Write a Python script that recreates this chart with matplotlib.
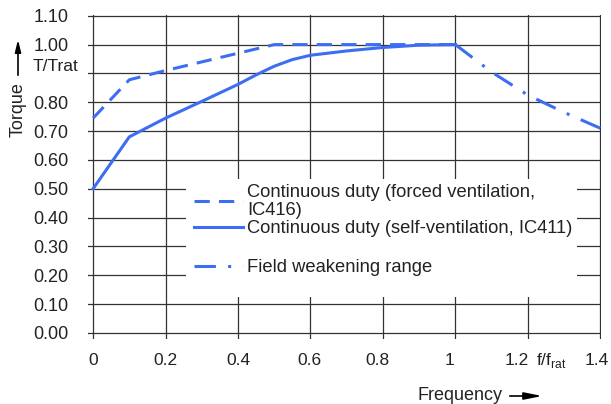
import matplotlib
matplotlib.use('Agg')
import matplotlib.pyplot as plt
from matplotlib.patches import Rectangle, FancyArrowPatch

plt.rcParams['font.family'] = ['Liberation Sans', 'DejaVu Sans']

# data
freq_forced = [0.0, 0.1, 0.2, 0.3, 0.4, 0.5, 0.6, 0.7, 0.8, 0.9, 1.0]
torque_forced = [0.745, 0.878, 0.91, 0.94, 0.97, 1.0, 1.0, 1.0, 1.0, 1.0, 1.0]

freq_self = [0.0, 0.1, 0.2, 0.3, 0.4, 0.45, 0.5, 0.55, 0.6, 0.7, 0.8, 0.9, 1.0]
torque_self = [0.5, 0.68, 0.745, 0.803, 0.862, 0.895, 0.925, 0.948, 0.963, 0.978, 0.99, 0.998, 1.0]

freq_field = [1.0, 1.1, 1.2, 1.3, 1.4]
torque_field = [1.0, 0.905, 0.825, 0.765, 0.71]

# grid positions and label positions (labels sit a little off the grid in the original)
xgrid = [0, 0.2, 0.4, 0.6, 0.8, 1.0, 1.2, 1.4]
xlabel_pos = [0, 0.2, 0.4, 0.597, 0.785, 0.984, 1.169, 1.266, 1.39]
xticklabels = ['0', '0.2', '0.4', '0.6', '0.8', '1', '1.2', r'f/f$_\mathregular{rat}$', '1.4']
yticks = [i / 10 for i in range(12)]
yticklabels = ['%.2f' % v if i != 9 else '' for i, v in enumerate(yticks)]

blue = '#3d6ef2'
txt = '#222222'

fig = plt.figure(figsize=(6.11, 4.04), dpi=100)
ax = fig.add_axes([88 / 611, 65 / 404, 513 / 611, 388 / 404 - 65 / 404 + 0.002])

l1, = ax.plot(freq_forced, torque_forced, color=blue, lw=2.2, dashes=(5, 3),
              label='Continuous duty (forced ventilation,\nIC416)')
l2, = ax.plot(freq_self, torque_self, color=blue, lw=2.2,
              label='Continuous duty (self-ventilation, IC411)')
l3, = ax.plot(freq_field, torque_field, color=blue, lw=2.2, dashes=(7, 4, 1, 4),
              label='Field weakening range')

ax.set_xlim(-0.014, 1.402)
ax.set_ylim(-0.021, 1.102)
ax.xaxis.remove_overlapping_locs = False
ax.set_xticks(xgrid)
ax.set_xticklabels([])
ax.set_xticks(xlabel_pos, minor=True)
ax.set_xticklabels(xticklabels, minor=True)
ax.set_yticks(yticks)
ax.set_yticklabels(yticklabels)
ax.tick_params(which='both', length=0, labelsize=12.5, labelcolor=txt)
ax.tick_params(axis='y', labelsize=13, pad=14)
ax.tick_params(axis='x', which='minor', pad=18.7)
for lbl in ax.get_xticklabels(minor=True):
    lbl.set_va('baseline')
ax.grid(True, which='major', color='#333333', lw=0.9)
for s in ax.spines.values():
    s.set_visible(False)

ax.text(-0.04, 0.925, 'T/Trat', ha='right', va='center', fontsize=12.5, color=txt)

# white block behind the legend
ax.add_patch(Rectangle((0.257, 0.125), 1.078, 0.408, facecolor='white',
                       edgecolor='none', zorder=1.8))

leg_kw = dict(fontsize=13.2, handlelength=2.67, handletextpad=0.22, frameon=False,
              borderpad=0, borderaxespad=0, bbox_transform=ax.transData, labelcolor=txt)
leg1 = ax.legend(handles=[l1, l2], loc='upper left', bbox_to_anchor=(0.279, 0.518),
                 labelspacing=0.05, **leg_kw)
for t in leg1.get_texts():
    t.set_linespacing(1.12)
ax.add_artist(leg1)
leg2 = ax.legend(handles=[l3], loc='center left', bbox_to_anchor=(0.279, 0.226), **leg_kw)

# axis labels with arrows
fig.text(18 / 611, 1 - 110 / 404, 'Torque', rotation=90, ha='center', va='center',
         fontsize=13, color=txt)
fig.add_artist(FancyArrowPatch(
    (18 / 611, 1 - 78 / 404), (18 / 611, 1 - 37 / 404), transform=fig.transFigure,
    arrowstyle='-|>,head_length=0.6,head_width=0.15', color='black', lw=1.2, mutation_scale=12))
fig.text(460 / 611, 1 - 396 / 404, 'Frequency', ha='center', va='center',
         fontsize=13, color=txt)
fig.add_artist(FancyArrowPatch(
    (507 / 611, 1 - 396 / 404), (545 / 611, 1 - 396 / 404), transform=fig.transFigure,
    arrowstyle='-|>,head_length=0.9,head_width=0.18', color='black', lw=1.2, mutation_scale=12))

fig.savefig('out.png', dpi=100)
